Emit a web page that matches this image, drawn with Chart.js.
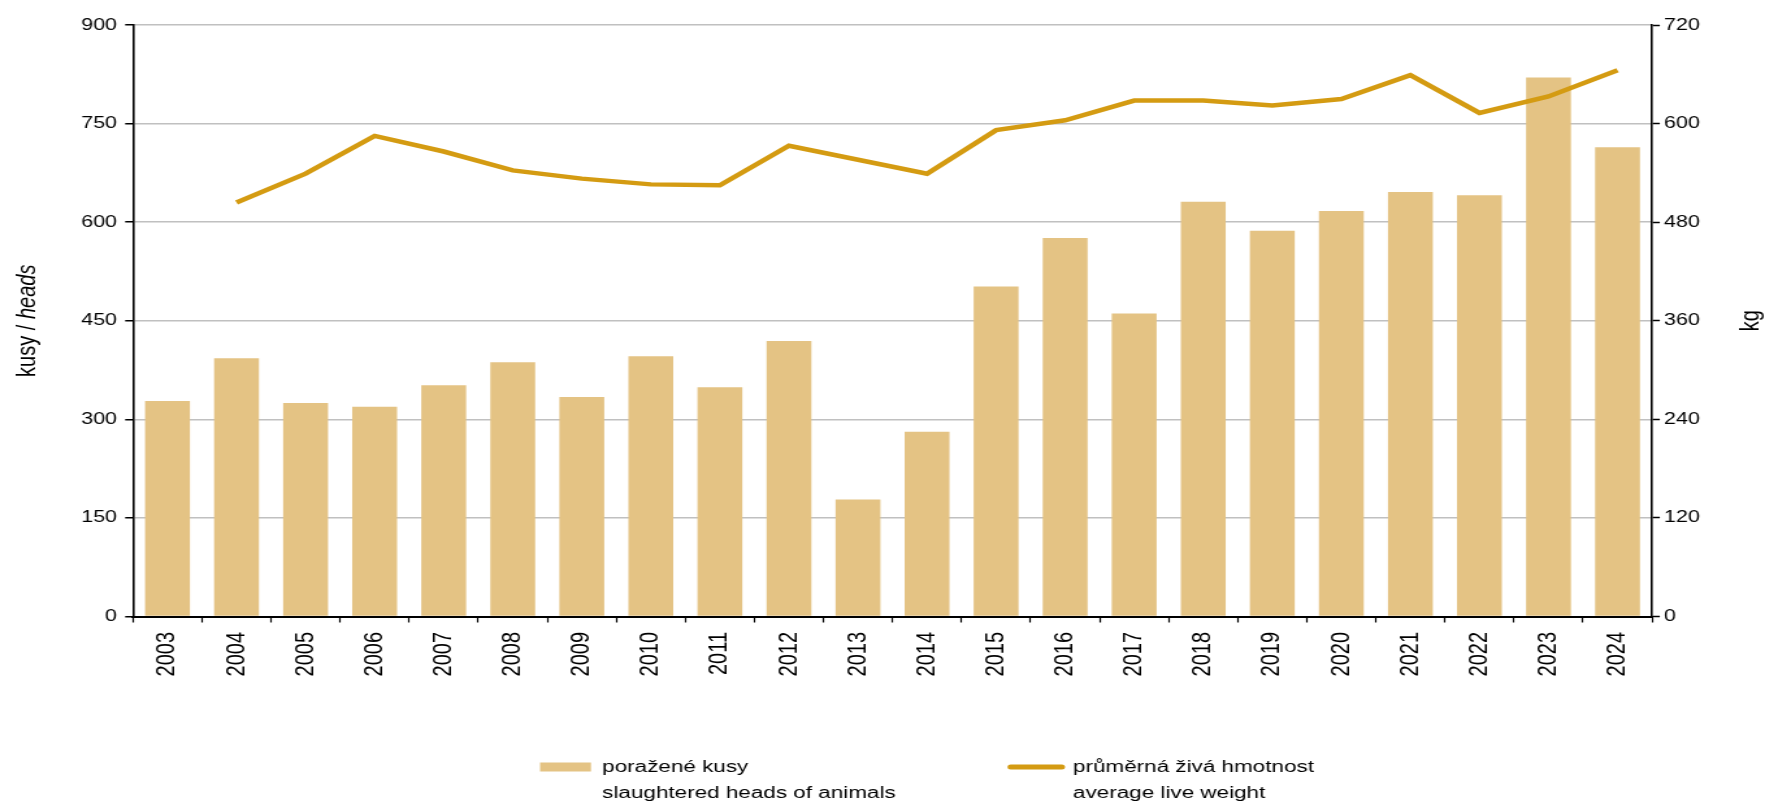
<!DOCTYPE html>
<html>
<head>
<meta charset="utf-8">
<script src="https://cdn.jsdelivr.net/npm/chart.js@4.4.1/dist/chart.umd.min.js"></script>
<style>
  html, body { margin: 0; padding: 0; background: #ffffff; overflow: hidden; }
  #wrap { width: 1765px; height: 802px; position: relative; overflow: hidden; }
  /* the reference picture is horizontally stretched; reproduce that */
  #c { position: absolute; left: 0; top: 0; transform: scaleX(1.299705); transform-origin: 0 0; }
</style>
</head>
<body>
<div id="wrap"><canvas id="c" width="1358" height="802"></canvas></div>
<script>
// ---- data ----
const years = ['2003','2004','2005','2006','2007','2008','2009','2010','2011','2012','2013','2014','2015','2016','2017','2018','2019','2020','2021','2022','2023','2024'];
const slaughteredHeads = [328, 393, 325, 319, 352, 387, 334, 396, 349, 419, 178, 281, 502, 576, 461, 631, 587, 617, 646, 641, 820, 714];
const avgLiveWeight = [null, 504, 539, 585, 566, 543, 533, 526, 525, 573, 556, 539, 592, 604, 628, 628, 622, 630, 659, 613, 633, 665];
const headsTicks = [0, 150, 300, 450, 600, 750, 900];
const kgTicks = [0, 120, 240, 360, 480, 600, 720];
const headsLabel = ['poražené kusy', 'slaughtered heads of animals'];
const weightLabel = ['průměrná živá hmotnost', 'average live weight'];
const leftTitleParts = ['kusy / ', 'heads'];
const rightTitle = 'kg';

// ---- styles / layout ----
const barColor = '#e4c384';
const lineColor = '#d49b12';
const FONT = "'Liberation Sans', Arial, sans-serif";
const LEGEND_FONT = 17.3;
const LEGEND_GAP = 88.6;
const LEGEND_START_X = 415.5;     // left edge of first legend symbol (canvas units)
const LEGEND_FIRST_LINE_Y = 767;  // centre of first legend text line
Chart.defaults.font.family = FONT;
Chart.defaults.color = '#000';

// multi-line legend text whose measured width is that of its longest line
function multiLine(lines) {
  const a = lines.slice();
  a.toString = function () { return this.reduce((x, y) => (x.length >= y.length ? x : y)); };
  return a;
}

const legendPlace = {
  id: 'legendPlace',
  afterLayout(chart) {
    const lg = chart.legend;
    if (!lg) return;
    const newTop = LEGEND_FIRST_LINE_Y - LEGEND_GAP - LEGEND_FONT / 2;
    const w = lg.right - lg.left;
    lg.top = newTop;
    lg.bottom = chart.height;
    lg.height = lg.bottom - lg.top;
    lg.left = LEGEND_START_X - LEGEND_GAP;
    lg.right = lg.left + w;
  }
};

const axisTitles = {
  id: 'axisTitles',
  afterDraw(chart) {
    const ctx = chart.ctx;
    const ca = chart.chartArea;
    const cy = (ca.top + ca.bottom) / 2;
    const fN = "20px " + FONT, fI = "italic 20px " + FONT;
    ctx.save();
    ctx.fillStyle = '#000';
    ctx.textBaseline = 'middle';
    ctx.textAlign = 'left';
    ctx.translate(ca.left - 81, cy);
    ctx.rotate(-Math.PI / 2);
    ctx.font = fN; const w1 = ctx.measureText(leftTitleParts[0]).width;
    ctx.font = fI; const w2 = ctx.measureText(leftTitleParts[1]).width;
    const x0 = -(w1 + w2) / 2;
    ctx.font = fN; ctx.fillText(leftTitleParts[0], x0, 0);
    ctx.font = fI; ctx.fillText(leftTitleParts[1], x0 + w1, 0);
    ctx.restore();

    ctx.save();
    ctx.fillStyle = '#000';
    ctx.textBaseline = 'middle';
    ctx.textAlign = 'center';
    ctx.translate(ca.right + 76, cy);
    ctx.rotate(-Math.PI / 2);
    ctx.font = fN;
    ctx.fillText(rightTitle, 0, 0);
    ctx.restore();
  }
};

new Chart(document.getElementById('c'), {
  data: {
    labels: years,
    datasets: [
      {
        type: 'line',
        label: weightLabel.join(' '),
        data: avgLiveWeight,
        yAxisID: 'y1',
        borderColor: lineColor,
        backgroundColor: lineColor,
        borderWidth: 4.5,
        pointRadius: 0,
        tension: 0,
        fill: false,
        order: 0
      },
      {
        type: 'bar',
        label: headsLabel.join(' '),
        data: slaughteredHeads,
        yAxisID: 'y',
        backgroundColor: barColor,
        borderWidth: 0,
        barPercentage: 0.65,
        categoryPercentage: 1.0,
        order: 1
      }
    ]
  },
  options: {
    responsive: false,
    animation: false,
    devicePixelRatio: 1,
    layout: { padding: { left: 60.3, right: 6, top: 25, bottom: 7.6 } },
    plugins: {
      tooltip: { enabled: false },
      legend: {
        position: 'bottom',
        align: 'start',
        labels: {
          usePointStyle: true,
          pointStyleWidth: 39.2,
          boxHeight: 9,
          padding: LEGEND_GAP,
          color: '#000',
          font: { size: LEGEND_FONT, lineHeight: 1.5 },
          generateLabels: () => [
            { text: multiLine(headsLabel), fillStyle: barColor, strokeStyle: barColor, lineWidth: 0, pointStyle: 'rect', hidden: false, datasetIndex: 1, fontColor: '#000' },
            { text: multiLine(weightLabel), fillStyle: lineColor, strokeStyle: lineColor, lineWidth: 5, lineCap: 'round', pointStyle: 'line', hidden: false, datasetIndex: 0, fontColor: '#000' }
          ]
        }
      }
    },
    scales: {
      x: {
        grid: { offset: true, drawOnChartArea: false, tickLength: 6, tickColor: '#000', tickWidth: 1.2 },
        border: { color: '#000', width: 2 },
        ticks: { minRotation: 90, maxRotation: 90, padding: 9.5, font: { size: 20 }, color: '#000', autoSkip: false },
        afterFit(s) { s.height = 62; }
      },
      y: {
        position: 'left',
        min: headsTicks[0],
        max: headsTicks[headsTicks.length - 1],
        afterBuildTicks(s) { s.ticks = headsTicks.map(v => ({ value: v })); },
        ticks: { padding: 6.3, font: { size: 16.5 }, color: '#000' },
        grid: { color: '#c0c0c0', lineWidth: 1.5, tickLength: 6, tickColor: '#000', tickWidth: 1.5 },
        border: { color: '#000', width: 1.6 },
        afterFit(s) { s.width = 42; }
      },
      y1: {
        position: 'right',
        min: kgTicks[0],
        max: kgTicks[kgTicks.length - 1],
        afterBuildTicks(s) { s.ticks = kgTicks.map(v => ({ value: v })); },
        ticks: { padding: 3.2, font: { size: 16.5 }, color: '#000' },
        grid: { drawOnChartArea: false, tickLength: 6, tickColor: '#000', tickWidth: 1.5 },
        border: { color: '#000', width: 1.6 },
        afterFit(s) { s.width = 80.9; }
      }
    }
  },
  plugins: [legendPlace, axisTitles]
});
</script>
</body>
</html>
